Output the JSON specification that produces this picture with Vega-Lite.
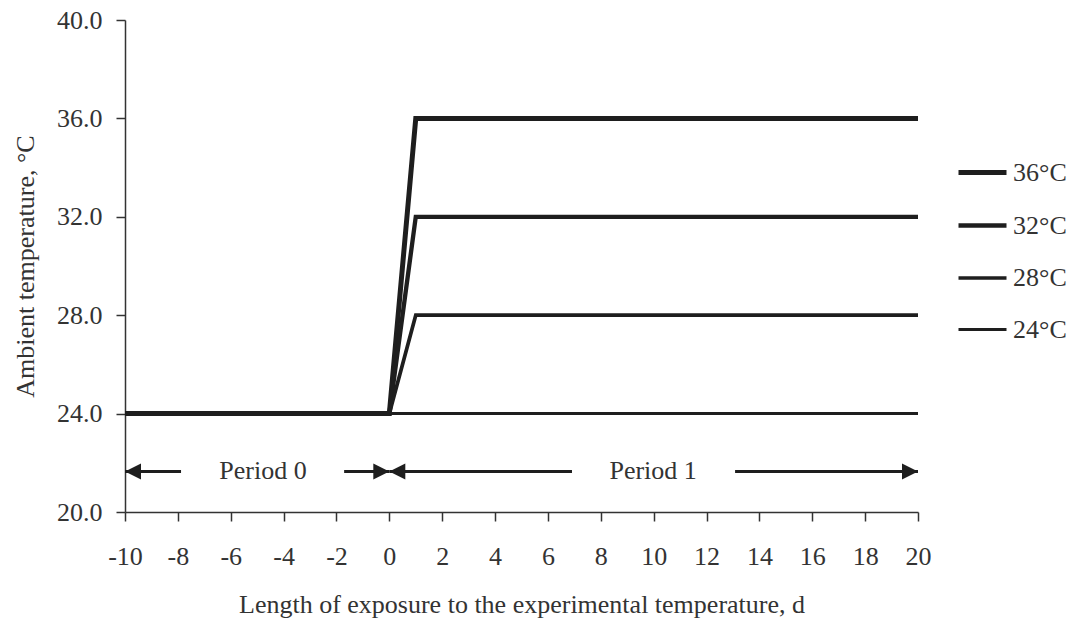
{
  "$schema": "https://vega.github.io/schema/vega-lite/v6.json",
  "width": 793,
  "height": 492,
  "autosize": {"type": "none"},
  "padding": {"left": 125, "top": 20, "right": 155, "bottom": 113},
  "background": "white",
  "config": {
    "view": {"stroke": null},
    "font": "Liberation Serif",
    "axis": {
      "domainColor": "#333",
      "tickColor": "#333",
      "domainWidth": 1.5,
      "tickWidth": 1.5,
      "tickSize": 9,
      "labelFont": "Liberation Serif",
      "labelFontSize": 26,
      "labelColor": "#333",
      "labelFlush": false,
      "labelOverlap": false,
      "titleFont": "Liberation Serif",
      "titleFontSize": 26,
      "titleFontWeight": "normal",
      "titleColor": "#333",
      "grid": false
    }
  },
  "layer": [
    {
      "data": {
        "values": [
          {"series": "36°C", "day": -10, "temp": 24},
          {"series": "36°C", "day": 0, "temp": 24},
          {"series": "36°C", "day": 1, "temp": 36},
          {"series": "36°C", "day": 20, "temp": 36},
          {"series": "32°C", "day": -10, "temp": 24},
          {"series": "32°C", "day": 0, "temp": 24},
          {"series": "32°C", "day": 1, "temp": 32},
          {"series": "32°C", "day": 20, "temp": 32},
          {"series": "28°C", "day": -10, "temp": 24},
          {"series": "28°C", "day": 0, "temp": 24},
          {"series": "28°C", "day": 1, "temp": 28},
          {"series": "28°C", "day": 20, "temp": 28},
          {"series": "24°C", "day": -10, "temp": 24},
          {"series": "24°C", "day": 0, "temp": 24},
          {"series": "24°C", "day": 1, "temp": 24},
          {"series": "24°C", "day": 20, "temp": 24}
        ]
      },
      "mark": {"type": "line", "color": "#1e1e1e", "strokeJoin": "miter"},
      "encoding": {
        "x": {
          "field": "day",
          "type": "quantitative",
          "scale": {"domain": [-10, 20], "nice": false, "zero": false},
          "axis": {
            "values": [-10, -8, -6, -4, -2, 0, 2, 4, 6, 8, 10, 12, 14, 16, 18, 20],
            "format": "d",
            "labelExpr": "replace(datum.label, '\u2212', '-')",
            "labelPadding": 22,
            "titlePadding": 22,
            "title": "Length of exposure to the experimental temperature, d"
          }
        },
        "y": {
          "field": "temp",
          "type": "quantitative",
          "scale": {"domain": [20, 40], "nice": false, "zero": false},
          "axis": {
            "values": [20, 24, 28, 32, 36, 40],
            "format": ".1f",
            "labelPadding": 14,
            "titlePadding": 18,
            "title": "Ambient temperature, °C"
          }
        },
        "detail": {"field": "series"},
        "strokeWidth": {
          "field": "series",
          "type": "nominal",
          "scale": {"domain": ["36°C", "32°C", "28°C", "24°C"], "range": [5, 3, 1.3, 1]},
          "legend": {
            "title": null,
            "orient": "none",
            "legendX": 831,
            "legendY": 126,
            "symbolType": "stroke",
            "symbolSize": 2304,
            "symbolStrokeColor": "#1e1e1e",
            "labelFont": "Liberation Serif",
            "labelFontSize": 26,
            "labelColor": "#333",
            "labelOffset": 4,
            "rowPadding": 13
          }
        }
      }
    },
    {
      "data": {
        "values": [
          {"x": -10, "x2": -7.88, "y": 21.65},
          {"x": -1.71, "x2": 0, "y": 21.65},
          {"x": 0, "x2": 6.91, "y": 21.65},
          {"x": 13.08, "x2": 20, "y": 21.65}
        ]
      },
      "mark": {"type": "rule", "color": "#1e1e1e", "strokeWidth": 3},
      "encoding": {
        "x": {"field": "x", "type": "quantitative"},
        "x2": {"field": "x2"},
        "y": {"field": "y", "type": "quantitative"}
      }
    },
    {
      "data": {
        "values": [
          {"x": -10, "y": 21.65, "dir": "left"},
          {"x": 0, "y": 21.65, "dir": "left"},
          {"x": 0, "y": 21.65, "dir": "right"},
          {"x": 20, "y": 21.65, "dir": "right"}
        ]
      },
      "mark": {"type": "point", "filled": true, "color": "#1e1e1e", "opacity": 1, "size": 1024},
      "encoding": {
        "x": {"field": "x", "type": "quantitative"},
        "y": {"field": "y", "type": "quantitative"},
        "shape": {
          "field": "dir",
          "type": "nominal",
          "scale": {"domain": ["left", "right"], "range": ["M0,0L1,-0.5L1,0.5Z", "M0,0L-1,-0.5L-1,0.5Z"]},
          "legend": null
        }
      }
    },
    {
      "data": {
        "values": [
          {"x": -4.78, "y": 21.65, "label": "Period 0"},
          {"x": 9.98, "y": 21.65, "label": "Period 1"}
        ]
      },
      "mark": {"type": "text", "font": "Liberation Serif", "fontSize": 26, "color": "#333", "align": "center", "baseline": "middle"},
      "encoding": {
        "x": {"field": "x", "type": "quantitative"},
        "y": {"field": "y", "type": "quantitative"},
        "text": {"field": "label"}
      }
    }
  ]
}
